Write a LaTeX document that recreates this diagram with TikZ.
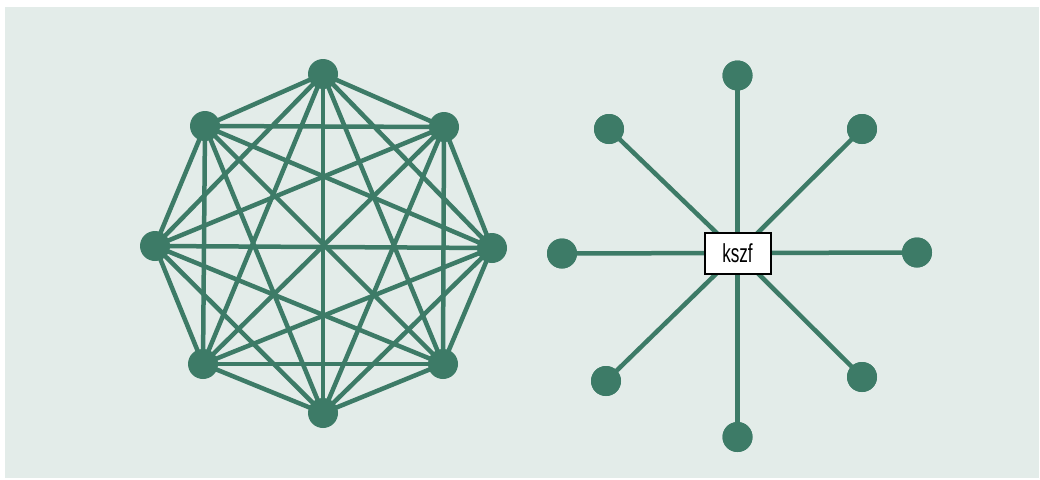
\documentclass[tikz,border=0pt]{standalone}
\usepackage{fontspec}
\newfontfamily\condfont[FakeStretch=0.66]{Liberation Sans}
\definecolor{bggreen}{RGB}{227,236,233}
\definecolor{edgegreen}{RGB}{61,123,103}
\begin{document}
\begin{tikzpicture}[x=1pt,y=-1pt,
  vert/.style={circle,fill=edgegreen,minimum size=30pt,inner sep=0pt},
  edge/.style={draw=edgegreen,line width=4.5pt},
  hub/.style={draw=black,line width=2pt,fill=white,minimum width=66pt,minimum height=41pt,inner sep=0pt,font=\condfont\fontsize{26}{28}\selectfont}]
\useasboundingbox (0,0) rectangle (1040,479);
\fill[bggreen] (5,7) rectangle (1039,478);
% left complete graph
\coordinate (p0) at (323,74);
\coordinate (p1) at (444,127);
\coordinate (p2) at (492,248);
\coordinate (p3) at (443,364);
\coordinate (p4) at (323,413);
\coordinate (p5) at (203,364);
\coordinate (p6) at (155,246);
\coordinate (p7) at (205,126);
\foreach \i in {0,...,6}{
  \pgfmathtruncatemacro{\s}{\i+1}
  \foreach \j in {\s,...,7}{
    \draw[edge] (p\i) -- (p\j);
  }
}
\foreach \i in {0,...,7}{
  \node[vert] (a\i) at (p\i) {};
}
% right star
\coordinate (c) at (737.5,253);
\node[vert] (s0) at (737.5,75.5) {};
\node[vert] (s1) at (862,129) {};
\node[vert] (s2) at (917,252.5) {};
\node[vert] (s3) at (862,377) {};
\node[vert] (s4) at (737.5,437) {};
\node[vert] (s5) at (606,381) {};
\node[vert] (s6) at (562,253.5) {};
\node[vert] (s7) at (609,129) {};
\foreach \i in {0,...,7}{
  \draw[edge] (c) -- (s\i.center);
}
\foreach \i in {0,...,7}{
  \node[vert] at (s\i) {};
}
\node[hub] (k) at (c) {kszf};
\end{tikzpicture}
\end{document}
